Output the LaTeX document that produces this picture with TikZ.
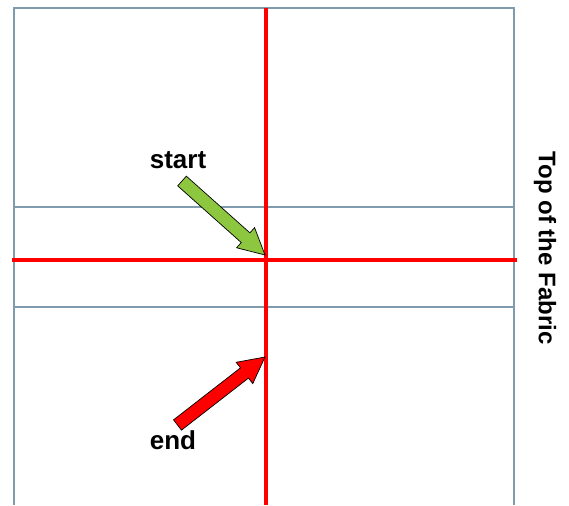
\documentclass[tikz,border=0pt]{standalone}
\usepackage{fontspec}
\setmainfont{Liberation Sans}
\usepackage{xcolor}
\usepackage{tikz}
\usetikzlibrary{calc}
\definecolor{gridblue}{HTML}{7F9BAE}
\definecolor{markred}{HTML}{FF0000}
\definecolor{arrowgreen}{HTML}{8DC63F}

\tikzset{
  gridline/.style={draw=gridblue,line width=1.3pt},
  seamline/.style={draw=markred,line width=4pt},
  blocktip/.style={draw=black,line width=0.7pt,line join=miter},
  label/.style={font=\fontsize{26}{28}\selectfont\bfseries,inner sep=0pt}
}

% block arrow from #1 (tail) to #2 (tip), filled with #3
\newcommand{\blockarrow}[3]{
  \coordinate (hb) at ($(#2)!26pt!(#1)$);
  \filldraw[blocktip,fill=#3]
    ($(#1)!6.5pt!90:(#2)$) -- ($(hb)!6.5pt!90:(#2)$) -- ($(hb)!13.5pt!90:(#2)$)
    -- (#2) -- ($(hb)!13.5pt!-90:(#2)$) -- ($(hb)!6.5pt!-90:(#2)$)
    -- ($(#1)!6.5pt!-90:(#2)$) -- cycle;
}

\begin{document}
\begin{tikzpicture}[x=1pt,y=-1pt]
        \useasboundingbox (0,0) rectangle (569,505);
        % fabric frame and fold lines
        \coordinate (fbl) at (14,505);
        \coordinate (ftl) at (14,8);
        \coordinate (ftr) at (514,8);
        \coordinate (fbr) at (514,505);
        \draw[gridline] (fbl) -- (ftl) -- (ftr) -- (fbr);
        \draw[gridline] (14,207) -- (514,207);
        \draw[gridline] (14,307) -- (514,307);
        % red seams
        \coordinate (sl) at (12,260);
        \coordinate (sr) at (517,260);
        \coordinate (st) at (266,8);
        \coordinate (sb) at (266,505);
        \draw[seamline] (sl) -- (sr);
        \draw[seamline] (st) -- (sb);
        % arrows
        \coordinate (gtail) at (182,181);
        \coordinate (gtip) at (265,255);
        \coordinate (rtail) at (177.5,425);
        \coordinate (rtip) at (265,357);
        \blockarrow{gtail}{gtip}{arrowgreen}
        \blockarrow{rtail}{rtip}{markred}
        % labels
        \node[label,anchor=base] (start) at (178,168) {start};
        \node[label,anchor=base] (end) at (173,449) {end};
        \node[label,font=\fontsize{24}{28}\selectfont\bfseries,rotate=-90] (top) at (545,248) {Top of the Fabric};
      \end{tikzpicture}
\end{document}
